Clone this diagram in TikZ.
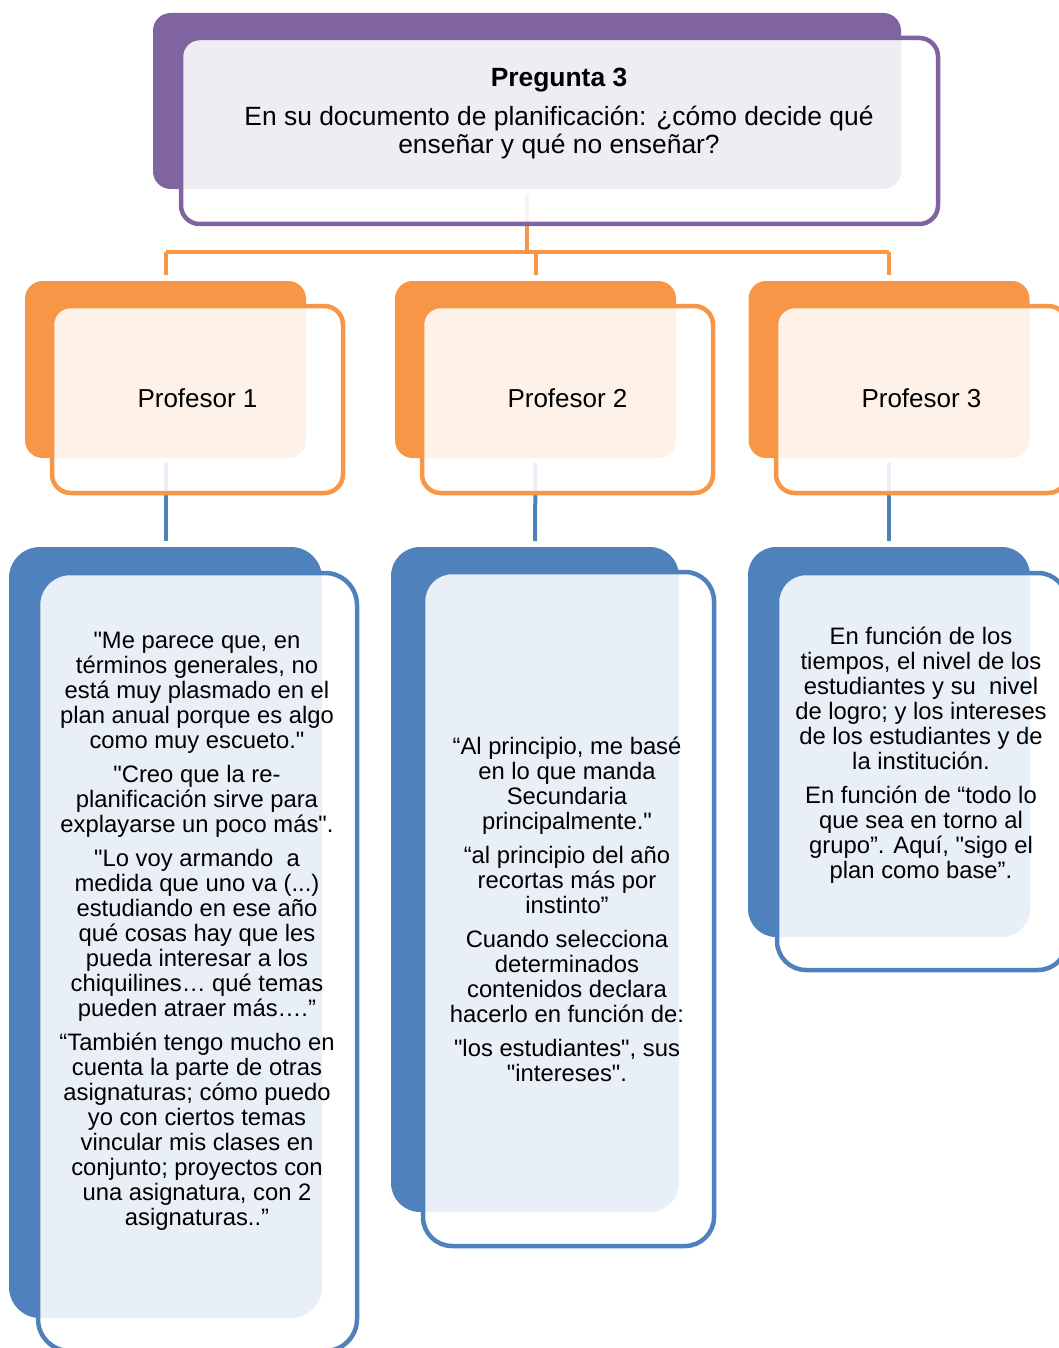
\documentclass[tikz,border=0pt]{standalone}
\usepackage{fontspec}
\setmainfont{Liberation Sans}
% a family without TeX ligatures, so that " stays a straight quote
\newfontfamily\arialfont{Liberation Sans}

\definecolor{qpurple}{HTML}{8064A2}
\definecolor{porange}{HTML}{F79646}
\definecolor{tblue}{HTML}{4F81BD}

% centred lines at a fixed baseline distance; the box sits on its first line
\newcommand\centredlines[1]{\vtop{\lineskiplimit=-100pt\halign{\hfil##\hfil\cr#1\crcr}}}
\newcommand\pargap{\noalign{\vskip9pt}}

\begin{document}
\begin{tikzpicture}[
  x=1pt, y=-1pt,
  box/.style={rectangle, inner sep=0pt, outer sep=0pt},
  fillbox/.style={box, fill=#1, draw=none},
  framebox/.style={box, draw=#1, line width=4.5pt, fill=white, fill opacity=0.88},
  oline/.style={draw=porange, line width=4pt},
  bline/.style={draw=tblue, line width=4pt},
  qtext/.style={inner sep=0pt, anchor=base, font=\arialfont\fontsize{26.4}{28}\selectfont},
  ptext/.style={inner sep=0pt, anchor=base, font=\arialfont\fontsize{26}{30}\selectfont},
  btext/.style={inner sep=0pt, anchor=base, font=\arialfont\fontsize{23.8}{25}\selectfont},
]
\useasboundingbox (0,0) rectangle (1059,1348);
\clip (0,0) rectangle (1059,1348);

% placement of the filled boxes, used by the connectors
\path
  node[box, minimum width=748pt, minimum height=176pt] (qf) at (527,101) {}
  node[box, minimum width=281pt, minimum height=177pt] (of1) at (165.5,369.5) {}
  node[box, minimum width=281pt, minimum height=177pt] (of2) at (535.5,369.5) {}
  node[box, minimum width=281pt, minimum height=177pt] (of3) at (889,369.5) {}
  node[box, minimum width=313pt, minimum height=771pt] (bf1) at (165.5,932.5) {}
  node[box, minimum width=288pt, minimum height=665pt] (bf2) at (535,879.5) {}
  node[box, minimum width=282pt, minimum height=390pt] (bf3) at (889,742) {};

% connectors: question -> teachers (orange), teachers -> quotes (blue)
\coordinate (bus) at (527,252);
\draw[oline] ([yshift=-6pt]qf.south) -- (bus);
\draw[oline] (of1.north |- bus) -- (of3.north |- bus);
\foreach \i in {1,2,3}{
  \draw[oline] (of\i.north |- bus) -- ([yshift=6pt]of\i.north);
  \draw[bline] ([yshift=-5pt]of\i.south) -- ([yshift=6pt]bf\i.north);
}

% question box
\node[fillbox=qpurple, rounded corners=17.6pt, minimum width=748pt, minimum height=176pt] (qfill) at (qf) {};
\node[framebox=qpurple, rounded corners=18.6pt, minimum width=757pt, minimum height=186pt] (qframe) at (559.5,131) {};

% teacher boxes
\foreach \i/\fx in {1/197.5, 2/567.5, 3/921.5}{
  \node[fillbox=porange, rounded corners=17.7pt, minimum width=281pt, minimum height=177pt] (pfill\i) at (of\i) {};
  \node[framebox=porange, rounded corners=18.7pt, minimum width=291pt, minimum height=187pt] (pframe\i) at (\fx,399.5) {};
}

% quote boxes
\node[fillbox=tblue, rounded corners=31pt, minimum width=313pt, minimum height=771pt] (bfill1) at (bf1) {};
\node[framebox=tblue, rounded corners=32pt, minimum width=319pt, minimum height=778pt] (bframe1) at (197.5,962) {};
\node[fillbox=tblue, rounded corners=29pt, minimum width=288pt, minimum height=665pt] (bfill2) at (bf2) {};
\node[framebox=tblue, rounded corners=29pt, minimum width=291pt, minimum height=674pt] (bframe2) at (568.5,909) {};
\node[fillbox=tblue, rounded corners=28pt, minimum width=282pt, minimum height=390pt] (bfill3) at (bf3) {};
\node[framebox=tblue, rounded corners=29pt, minimum width=290pt, minimum height=397pt] (bframe3) at (922,771.5) {};

% texts
\node[qtext] (qlabel) at (559,87) {\centredlines{%
\textbf{Pregunta 3}\cr
\noalign{\vskip11pt}
En su documento de planificación: ¿cómo decide qué\cr
enseñar y qué no enseñar?}};

\node[ptext] (plabel1) at (197.5,407) {Profesor 1};
\node[ptext] (plabel2) at (567.5,407) {Profesor 2};
\node[ptext] (plabel3) at (921.5,407) {Profesor 3};

\node[btext] (quote1) at (197,648) {\centredlines{%
"Me parece que, en\cr
términos generales, no\cr
está muy plasmado en el\cr
plan anual porque es algo\cr
como muy escueto."\cr
\pargap
"Creo que la re-\cr
planificación sirve para\cr
explayarse un poco más".\cr
\pargap
"Lo voy armando\ \ a\cr
medida que uno va (...)\cr
estudiando en ese año\cr
qué cosas hay que les\cr
pueda interesar a los\cr
chiquilines… qué temas\cr
pueden atraer más….”\cr
\pargap
“También tengo mucho en\cr
cuenta la parte de otras\cr
asignaturas; cómo puedo\cr
yo con ciertos temas\cr
vincular mis clases en\cr
conjunto; proyectos con\cr
una asignatura, con 2\cr
asignaturas..”}};

\node[btext] (quote2) at (567,754) {\centredlines{%
“Al principio, me basé\cr
en lo que manda\cr
Secundaria\cr
principalmente."\cr
\pargap
“al principio del año\cr
recortas más por\cr
instinto”\cr
\pargap
Cuando selecciona\cr
determinados\cr
contenidos declara\cr
hacerlo en función de:\cr
\pargap
"los estudiantes", sus\cr
"intereses".}};

\node[btext] (quote3) at (921,644) {\centredlines{%
En función de los\cr
tiempos, el nivel de los\cr
estudiantes y su\ \ nivel\cr
de logro; y los intereses\cr
de los estudiantes y de\cr
la institución.\cr
\pargap
En función de “todo lo\cr
que sea en torno al\cr
grupo”. Aquí, "sigo el\cr
plan como base”.}};
\end{tikzpicture}
\end{document}
